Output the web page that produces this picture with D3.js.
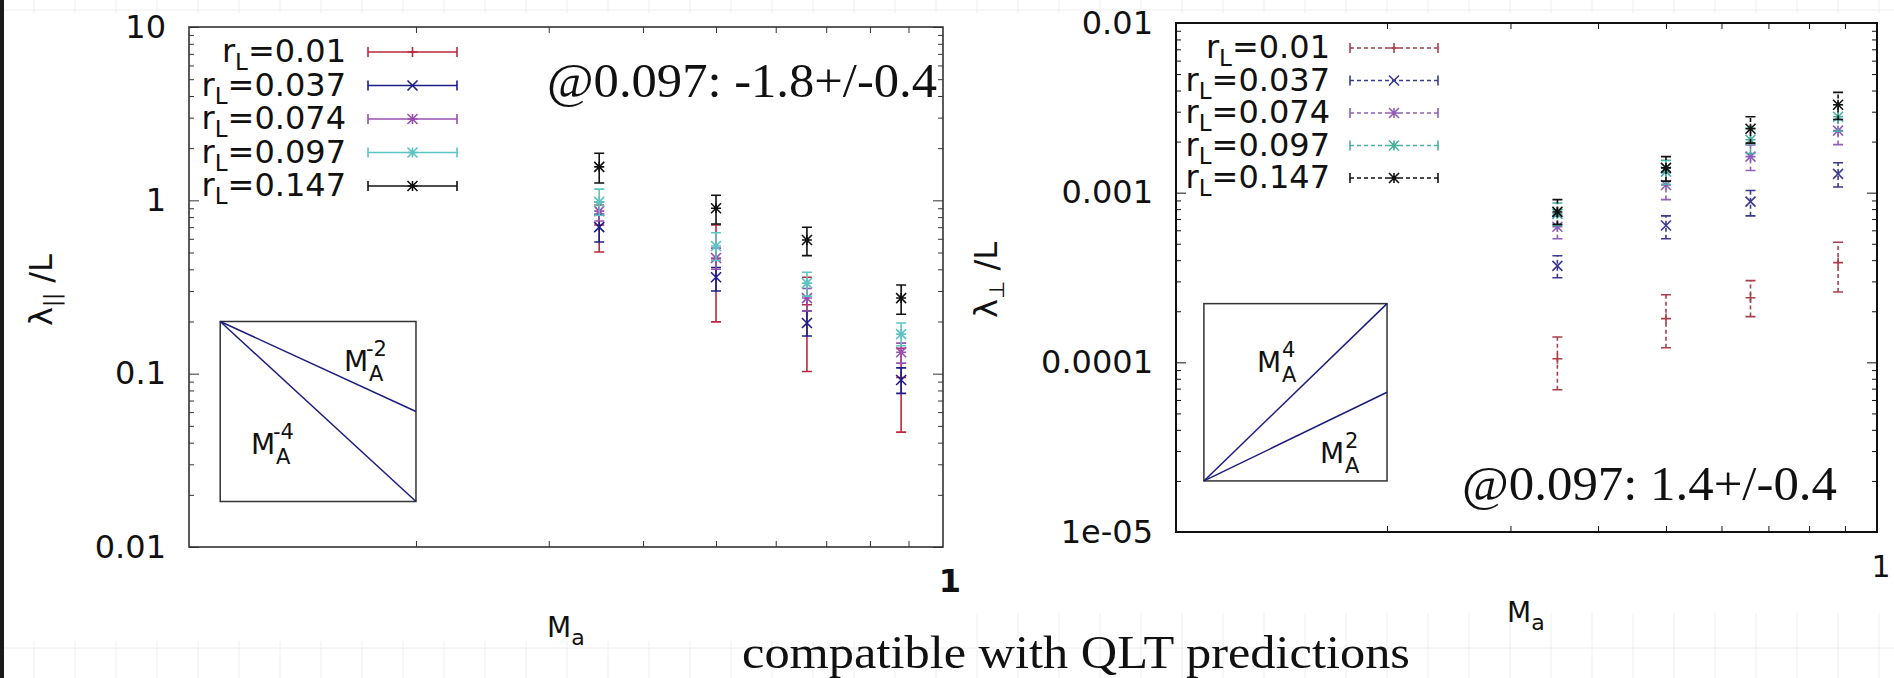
<!DOCTYPE html>
<html><head><meta charset="utf-8">
<script src="https://cdn.jsdelivr.net/npm/d3@7"></script>
<style>body{margin:0;background:#fff}svg{display:block}</style>
</head><body>
<svg id="c" width="1894" height="678"></svg>
<script>
// ---------------- data ----------------
const machNumbers = [0.35, 0.5, 0.66, 0.88];
const seriesLabels = ["0.01", "0.037", "0.074", "0.097", "0.147"];
const seriesMarkers = ["plus", "cross", "star", "star", "star"];
const xMinorTicks = [0.2, 0.3, 0.4, 0.5, 0.6, 0.7, 0.8, 0.9];
const xMajorLabel = ["1"];

// lambda_parallel / L : [value, low, high] per Mach number
const par001 = [[0.72, 0.503, 0.94], [0.46, 0.199, 0.72], [0.25, 0.103, 0.36], [0.095, 0.046, 0.14]];
const par037 = [[0.70, 0.575, 0.83], [0.36, 0.30, 0.41], [0.196, 0.165, 0.23], [0.092, 0.077, 0.108]];
const par074 = [[0.867, 0.76, 0.98], [0.465, 0.40, 0.53], [0.273, 0.23, 0.31], [0.133, 0.115, 0.15]];
const par097 = [[0.98, 0.82, 1.16], [0.545, 0.45, 0.65], [0.333, 0.28, 0.385], [0.169, 0.145, 0.196]];
const par147 = [[1.56, 1.26, 1.87], [0.90, 0.73, 1.07], [0.59, 0.48, 0.70], [0.273, 0.22, 0.325]];
const parYTicks = [0.01, 0.1, 1, 10];
const parYTickLabels = ["0.01", "0.1", "1", "10"];

// lambda_perp / L
const perp001 = [[1.05e-4, 6.9e-5, 1.41e-4], [1.81e-4, 1.22e-4, 2.5e-4], [2.4e-4, 1.86e-4, 3.03e-4], [3.87e-4, 2.6e-4, 5.1e-4]];
const perp037 = [[3.7e-4, 3.15e-4, 4.25e-4], [6.4e-4, 5.35e-4, 7.3e-4], [8.85e-4, 7.3e-4, 1.03e-3], [1.29e-3, 1.08e-3, 1.5e-3]];
const perp074 = [[6.3e-4, 5.35e-4, 7.3e-4], [1.11e-3, 9.1e-4, 1.31e-3], [1.63e-3, 1.35e-3, 1.91e-3], [2.32e-3, 1.92e-3, 2.7e-3]];
const perp097 = [[7.5e-4, 6.4e-4, 8.7e-4], [1.33e-3, 1.12e-3, 1.55e-3], [2.05e-3, 1.7e-3, 2.4e-3], [2.8e-3, 2.3e-3, 3.3e-3]];
const perp147 = [[7.7e-4, 6.5e-4, 9.1e-4], [1.40e-3, 1.17e-3, 1.63e-3], [2.38e-3, 1.96e-3, 2.8e-3], [3.3e-3, 2.7e-3, 3.9e-3]];
const perpYTicks = [1e-5, 1e-4, 1e-3, 1e-2];
const perpYTickLabels = ["1e-05", "0.0001", "0.001", "0.01"];

// inset scaling guides: x range, anchor value, exponents
const parInsetX = [0.11, 0.2];
const parInsetAnchor = 0.2;
const parInsetExp = [-2, -4];
const perpInsetX = [0.1096, 0.2];
const perpInsetAnchor = 2.0e-5;
const perpInsetExp = [4, 2];

const parFit = "@0.097: -1.8+/-0.4";
const perpFit = "@0.097: 1.4+/-0.4";
const caption = "compatible with QLT predictions";

// ---------------- drawing ----------------
const svg = d3.select("#c");
const SANS = "'DejaVu Sans', Verdana, sans-serif";
const SERIF = "'Liberation Serif', 'DejaVu Serif', serif";

// slide background: faint grid, dark left border
const bg = svg.append("g");
bg.append("rect").attr("width", 1894).attr("height", 678).attr("fill", "#fff");
const gridX = d3.range(34, 1894, 41);
bg.selectAll("line.gv").data(gridX).join("line")
  .attr("x1", d => d).attr("x2", d => d).attr("y1", 0).attr("y2", 678)
  .attr("stroke", "#eeeeee").attr("stroke-width", 1);
bg.selectAll("line.gh").data([10, 648]).join("line")
  .attr("x1", 0).attr("x2", 1894).attr("y1", d => d).attr("y2", d => d)
  .attr("stroke", "#eeeeee").attr("stroke-width", 1);
bg.append("rect").attr("x", 5).attr("y", 13).attr("width", 950).attr("height", 628).attr("fill", "#fff");
bg.append("rect").attr("x", 968).attr("y", 13).attr("width", 926).attr("height", 600).attr("fill", "#fff");
bg.append("rect").attr("x", 0).attr("y", 0).attr("width", 4).attr("height", 678).attr("fill", "#1a1a1a");

function markerPath(type, s) {
  const plus = `M${-s},0H${s}M0,${-s}V${s}`;
  const cross = `M${-s},${-s}L${s},${s}M${-s},${s}L${s},${-s}`;
  if (type === "plus") return plus;
  if (type === "cross") return cross;
  return plus + cross;
}

function minorTicks(domain) {
  const out = [];
  for (let e = Math.round(Math.log10(domain[0])); e < Math.round(Math.log10(domain[1])); e++) {
    for (let k = 2; k <= 9; k++) out.push(k * Math.pow(10, e));
  }
  return out;
}

function panel(cfg) {
  const g = svg.append("g");
  const x = d3.scaleLog().domain([0.1, 1]).range([cfg.x0, cfg.x1]);
  const y = d3.scaleLog().domain(cfg.yDomain).range([cfg.y0, cfg.y1]);
  const fc = cfg.frameColor;

  // axes ticks (inward)
  const strip = sel => sel.select(".domain").remove();
  g.append("g").attr("transform", `translate(${cfg.x0},0)`).attr("color", fc)
    .call(d3.axisRight(y).tickValues(minorTicks(cfg.yDomain)).tickSize(5).tickFormat("")).call(strip);
  g.append("g").attr("transform", `translate(${cfg.x0},0)`).attr("color", fc)
    .call(d3.axisRight(y).tickValues(cfg.yTicks).tickSize(10).tickFormat("")).call(strip);
  g.append("g").attr("transform", `translate(${cfg.x1},0)`).attr("color", fc)
    .call(d3.axisLeft(y).tickValues(minorTicks(cfg.yDomain)).tickSize(5).tickFormat("")).call(strip);
  g.append("g").attr("transform", `translate(${cfg.x1},0)`).attr("color", fc)
    .call(d3.axisLeft(y).tickValues(cfg.yTicks).tickSize(10).tickFormat("")).call(strip);
  g.append("g").attr("transform", `translate(0,${cfg.y0})`).attr("color", fc)
    .call(d3.axisTop(x).tickValues(xMinorTicks).tickSize(6).tickFormat("")).call(strip);
  g.append("g").attr("transform", `translate(0,${cfg.y1})`).attr("color", fc)
    .call(d3.axisBottom(x).tickValues(xMinorTicks).tickSize(6).tickFormat("")).call(strip);

  // y tick labels
  const yl = g.append("g").attr("transform", `translate(${cfg.x0},0)`)
    .call(d3.axisLeft(y).tickValues(cfg.yTicks).tickSize(0).tickPadding(23)
      .tickFormat((d, i) => cfg.yTickLabels[i])).call(strip);
  yl.selectAll("text").attr("fill", "#111").style("font-family", SANS).style("font-size", "32px");

  // x major label "1"
  g.selectAll("text.xl").data([1]).join("text")
    .attr("x", d => x(d) + cfg.oneDx).attr("y", cfg.oneY)
    .attr("text-anchor", "middle").attr("fill", "#111")
    .style("font-family", SANS).style("font-size", cfg.oneSize + "px")
    .style("font-weight", cfg.oneBold ? "bold" : "normal")
    .text(xMajorLabel[0]);

  // frame
  g.append("rect").attr("x", cfg.x0).attr("y", cfg.y1)
    .attr("width", cfg.x1 - cfg.x0).attr("height", cfg.y0 - cfg.y1)
    .attr("fill", "none").attr("stroke", fc).attr("stroke-width", cfg.frameWidth);

  // inset
  const ins = g.append("g");
  const ix0 = x(cfg.insetX[0]), ix1 = x(cfg.insetX[1]);
  const lineEnds = cfg.insetExp.map(p => cfg.insetAnchor * Math.pow(cfg.insetX[1] / cfg.insetX[0], p));
  const yVals = [cfg.insetAnchor, ...lineEnds];
  const iyTop = y(d3.max(yVals)), iyBot = y(d3.min(yVals));
  ins.append("rect").attr("x", ix0).attr("y", iyTop).attr("width", ix1 - ix0).attr("height", iyBot - iyTop)
    .attr("fill", "#fff").attr("stroke", "#333").attr("stroke-width", 1.5);
  ins.selectAll("line").data(lineEnds).join("line")
    .attr("x1", ix0).attr("y1", y(cfg.insetAnchor)).attr("x2", ix1).attr("y2", d => y(d))
    .attr("stroke", "#1c1c7c").attr("stroke-width", 1.5);
  cfg.insetLabels.forEach(lb => {
    const t = ins.append("g").attr("transform", `translate(${lb.x},${lb.y})`)
      .style("font-family", SANS).attr("fill", "#111");
    t.append("text").attr("x", 0).attr("y", 0).style("font-size", "28px").text("M");
    t.append("text").attr("x", 25).attr("y", 10).style("font-size", "21px").text("A");
    t.append("text").attr("x", lb.supDx).attr("y", -15).style("font-size", "21px").text(lb.sup);
  });

  // data
  cfg.series.forEach((ser, si) => {
    const col = cfg.colors[si];
    const sg = g.append("g").attr("stroke", col).attr("fill", "none").attr("stroke-width", 1.6);
    const pts = ser.map((d, i) => ({ x: machNumbers[i], v: d[0], lo: d[1], hi: d[2] }));
    sg.selectAll("line.eb").data(pts).join("line").attr("class", "eb")
      .attr("x1", d => x(d.x)).attr("x2", d => x(d.x))
      .attr("y1", d => y(d.lo)).attr("y2", d => y(d.hi))
      .attr("stroke-dasharray", cfg.dash);
    sg.selectAll("path.cap").data(pts).join("path").attr("class", "cap")
      .attr("d", d => `M${x(d.x) - 5},${y(d.lo)}H${x(d.x) + 5}M${x(d.x) - 5},${y(d.hi)}H${x(d.x) + 5}`);
    sg.selectAll("path.mk").data(pts).join("path").attr("class", "mk")
      .attr("transform", d => `translate(${x(d.x)},${y(d.v)})`)
      .attr("d", markerPath(seriesMarkers[si], 5));

    // legend entry
    const ly = cfg.legY0 + si * cfg.legDy;
    const lg = g.append("g");
    const t = lg.append("text").attr("x", cfg.legTextX).attr("y", ly + 10).attr("text-anchor", "end")
      .attr("fill", "#111").style("font-family", SANS).style("font-size", "32px");
    t.append("tspan").text("r");
    t.append("tspan").attr("dy", 8).style("font-size", "23px").text("L");
    t.append("tspan").attr("dy", -8).text("=" + seriesLabels[si]);
    const ls = lg.append("g").attr("stroke", col).attr("fill", "none").attr("stroke-width", 1.6);
    ls.append("line").attr("x1", cfg.legLine[0]).attr("x2", cfg.legLine[1]).attr("y1", ly).attr("y2", ly)
      .attr("stroke-dasharray", cfg.dash);
    ls.append("path").attr("d", `M${cfg.legLine[0]},${ly - 5}V${ly + 5}M${cfg.legLine[1]},${ly - 5}V${ly + 5}`);
    ls.append("path").attr("transform", `translate(${(cfg.legLine[0] + cfg.legLine[1]) / 2},${ly})`)
      .attr("d", markerPath(seriesMarkers[si], 5));
  });

  // axis titles
  const xt = g.append("text").attr("x", cfg.xTitle[0]).attr("y", cfg.xTitle[1]).attr("fill", "#111")
    .style("font-family", SANS).style("font-size", "28px");
  xt.append("tspan").text("M");
  xt.append("tspan").attr("dy", 8).style("font-size", "22px").text("a");
  const ytg = g.append("text").attr("transform", `translate(${cfg.yTitle[0]},${cfg.yTitle[1]}) rotate(-90)`)
    .attr("text-anchor", "middle").attr("fill", "#111")
    .style("font-family", SANS).style("font-size", "32px");
  ytg.append("tspan").text("λ");
  ytg.append("tspan").attr("dy", 7).style("font-size", "21px").text(cfg.ySub);
  ytg.append("tspan").attr("dy", -7).text(" /L");

  // fit annotation
  g.append("text").attr("x", cfg.fit[0]).attr("y", cfg.fit[1]).attr("fill", "#111")
    .attr("textLength", cfg.fit[2]).attr("lengthAdjust", "spacingAndGlyphs")
    .style("font-family", SERIF).style("font-size", "48px").text(cfg.fitText);
}

panel({
  x0: 189, x1: 943, y0: 547, y1: 27, yDomain: [0.01, 10],
  yTicks: parYTicks, yTickLabels: parYTickLabels,
  frameColor: "#333", frameWidth: 1.6, dash: null,
  series: [par001, par037, par074, par097, par147],
  colors: ["#b8283c", "#1c1c8c", "#9a4fb0", "#5cc4c4", "#111111"],
  insetX: parInsetX, insetAnchor: parInsetAnchor, insetExp: parInsetExp,
  insetLabels: [{ x: 344, y: 371, sup: "-2", supDx: 22 }, { x: 251, y: 454, sup: "-4", supDx: 22 }],
  legY0: 52, legDy: 33.5, legTextX: 346, legLine: [368, 457],
  xTitle: [547, 637], yTitle: [52, 290], ySub: "||",
  oneDx: 7, oneY: 592, oneSize: 32, oneBold: true,
  fit: [547, 97, 390], fitText: parFit
});

panel({
  x0: 1176, x1: 1877, y0: 532, y1: 23, yDomain: [1e-5, 1e-2],
  yTicks: perpYTicks, yTickLabels: perpYTickLabels,
  frameColor: "#111", frameWidth: 2, dash: "4,3",
  series: [perp001, perp037, perp074, perp097, perp147],
  colors: ["#a8404c", "#3a3a90", "#9060b8", "#4ab0a0", "#111111"],
  insetX: perpInsetX, insetAnchor: perpInsetAnchor, insetExp: perpInsetExp,
  insetLabels: [{ x: 1257, y: 372, sup: "4", supDx: 25 }, { x: 1320, y: 463, sup: "2", supDx: 25 }],
  legY0: 48, legDy: 32.5, legTextX: 1330, legLine: [1350, 1438],
  xTitle: [1507, 622], yTitle: [997, 280], ySub: "⊥",
  oneDx: 4, oneY: 577, oneSize: 30, oneBold: false,
  fit: [1462, 500, 375], fitText: perpFit
});

svg.append("text").attr("x", 742).attr("y", 668).attr("fill", "#111")
  .attr("textLength", 668).attr("lengthAdjust", "spacingAndGlyphs")
  .style("font-family", SERIF).style("font-size", "46px").text(caption);
</script>
</body></html>
